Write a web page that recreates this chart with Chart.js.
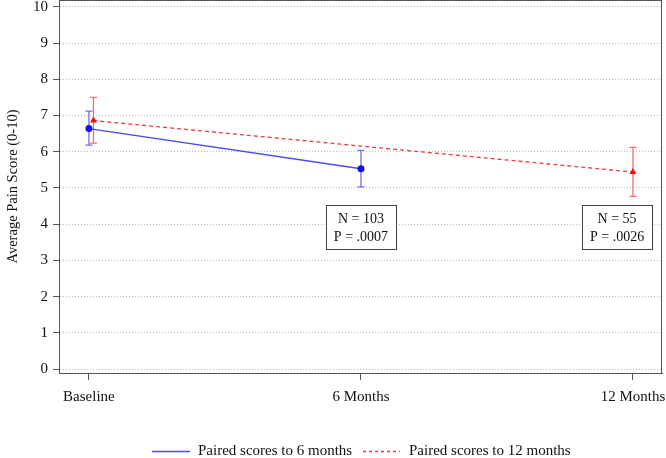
<!DOCTYPE html>
<html><head><meta charset="utf-8">
<script src="https://cdn.jsdelivr.net/npm/chart.js@4/dist/chart.umd.min.js"></script>
<style>html,body{margin:0;padding:0;background:#fff}#wrap{width:666px;height:458px}</style>
</head><body><div id="wrap"><canvas id="c" width="666" height="458"></canvas></div>
<script>
const categories = ['Baseline', '6 Months', '12 Months'];
const categoryMonths = [0, 6, 12];
const yTicks = [0,1,2,3,4,5,6,7,8,9,10];

const sixLabel = 'Paired scores to 6 months';
const sixMonths = [0, 6];
const sixMean = [6.64, 5.53];
const sixLow = [6.18, 5.03];
const sixHigh = [7.12, 6.04];

const twelveLabel = 'Paired scores to 12 months';
const twelveMonths = [0.1, 12];
const twelveMean = [6.86, 5.44];
const twelveLow = [6.24, 4.77];
const twelveHigh = [7.50, 6.12];

const annMonths = [6, 11.65];
const annScore = 3.92;
const annN = ['N = 103', 'N = 55'];
const annP = ['P = .0007', 'P = .0026'];

const FONT = '"Liberation Serif", "Times New Roman", serif';
const BLUE = '#4a4aee', BLUE_PT = '#1010f0', BLUE_ERR = '#7070f0';
const RED = '#f03a3a', RED_PT = '#ee1111', RED_ERR = '#f07070';

const sixData = sixMonths.map((m, i) => ({x: m, y: sixMean[i]}));
const twelveData = twelveMonths.map((m, i) => ({x: m, y: twelveMean[i]}));

const extras = {
  id: 'extras',
  beforeDatasetsDraw(chart) {
    const ctx = chart.ctx, xs = chart.scales.x, ys = chart.scales.y;
    const draw = (months, lo, hi, color) => {
      ctx.save();
      ctx.strokeStyle = color; ctx.lineWidth = 1.3;
      months.forEach((m, i) => {
        const px = xs.getPixelForValue(m);
        const p1 = ys.getPixelForValue(lo[i]), p2 = ys.getPixelForValue(hi[i]);
        ctx.beginPath();
        ctx.moveTo(px, p1); ctx.lineTo(px, p2);
        ctx.moveTo(px - 3.5, p1); ctx.lineTo(px + 3.5, p1);
        ctx.moveTo(px - 3.5, p2); ctx.lineTo(px + 3.5, p2);
        ctx.stroke();
      });
      ctx.restore();
    };
    draw(twelveMonths, twelveLow, twelveHigh, RED_ERR);
    draw(sixMonths, sixLow, sixHigh, BLUE_ERR);
  },
  afterDraw(chart) {
    const ctx = chart.ctx, a = chart.chartArea, xs = chart.scales.x, ys = chart.scales.y;
    ctx.save();
    ctx.strokeStyle = '#555'; ctx.lineWidth = 1;
    ctx.strokeRect(Math.round(a.left) + 0.5, Math.round(a.top) + 0.5, Math.round(a.right - a.left) - 1, Math.round(a.bottom - a.top));
    ctx.font = '14px ' + FONT; ctx.textAlign = 'center'; ctx.textBaseline = 'middle';
    annMonths.forEach((m, i) => {
      const cx = xs.getPixelForValue(m), cy = ys.getPixelForValue(annScore);
      const w = 70, h = 44;
      ctx.fillStyle = '#fff';
      ctx.fillRect(cx - w/2, cy - h/2, w, h);
      ctx.strokeStyle = '#444';
      ctx.strokeRect(Math.round(cx - w/2) + 0.5, Math.round(cy - h/2) + 0.5, w, h);
      ctx.fillStyle = '#111';
      ctx.fillText(annN[i], cx, cy - 8);
      ctx.fillText(annP[i], cx, cy + 10);
    });
    const ly = 451.5;
    ctx.font = '15px ' + FONT;
    ctx.textAlign = 'left';
    ctx.lineWidth = 1.3;
    ctx.strokeStyle = BLUE; ctx.setLineDash([]);
    ctx.beginPath(); ctx.moveTo(152, ly); ctx.lineTo(190, ly); ctx.stroke();
    ctx.fillText(sixLabel, 198, ly);
    ctx.strokeStyle = RED; ctx.setLineDash([3, 3]);
    ctx.beginPath(); ctx.moveTo(363, ly); ctx.lineTo(400, ly); ctx.stroke();
    ctx.setLineDash([]);
    ctx.fillText(twelveLabel, 409, ly);
    ctx.restore();
  }
};

new Chart(document.getElementById('c'), {
  type: 'line',
  data: {
    datasets: [
      { label: twelveLabel, data: twelveData, borderColor: RED, borderWidth: 1.3, borderDash: [4, 3],
        pointStyle: 'triangle', pointRadius: 4, pointBackgroundColor: RED_PT, pointBorderColor: RED_PT, pointBorderWidth: 0, tension: 0 },
      { label: sixLabel, data: sixData, borderColor: BLUE, borderWidth: 1.3,
        pointStyle: 'circle', pointRadius: 3.5, pointBackgroundColor: BLUE_PT, pointBorderColor: BLUE_PT, pointBorderWidth: 0, tension: 0 }
    ]
  },
  options: {
    responsive: false, animation: false,
    layout: { autoPadding: false, padding: { left: 0, top: 0, right: 4, bottom: 55 } },
    plugins: { legend: { display: false }, tooltip: { enabled: false } },
    scales: {
      x: {
        type: 'linear', min: -0.66, max: 12.64,
        afterBuildTicks(s) { s.ticks = categoryMonths.map(v => ({value: v})); },
        afterFit(s) { s.height = 30; s.paddingLeft = 0; s.paddingRight = 0; },
        ticks: { callback: (v) => categories[categoryMonths.indexOf(v)], font: { family: FONT, size: 15 }, color: '#111', padding: 8, maxRotation: 0, autoSkip: false },
        grid: { drawOnChartArea: false, drawTicks: true, tickLength: 7, color: '#555' },
        border: { display: true, color: '#555' }
      },
      y: {
        type: 'linear', min: -0.11, max: 10.19,
        afterBuildTicks(s) { s.ticks = yTicks.map(v => ({value: v})); },
        afterFit(s) { s.width = 59; s.paddingTop = 0; s.paddingBottom = 0; },
        ticks: { font: { family: FONT, size: 15 }, color: '#111', padding: 5 },
        grid: { drawOnChartArea: true, tickLength: 6, color: '#bbb', tickColor: '#555', tickBorderDash: [] },
        border: { display: true, color: '#555', dash: [1, 2] },
        title: { display: true, text: 'Average Pain Score (0-10)', font: { family: FONT, size: 14.5 }, color: '#111', padding: 4 }
      }
    }
  },
  plugins: [extras]
});
</script></body></html>
